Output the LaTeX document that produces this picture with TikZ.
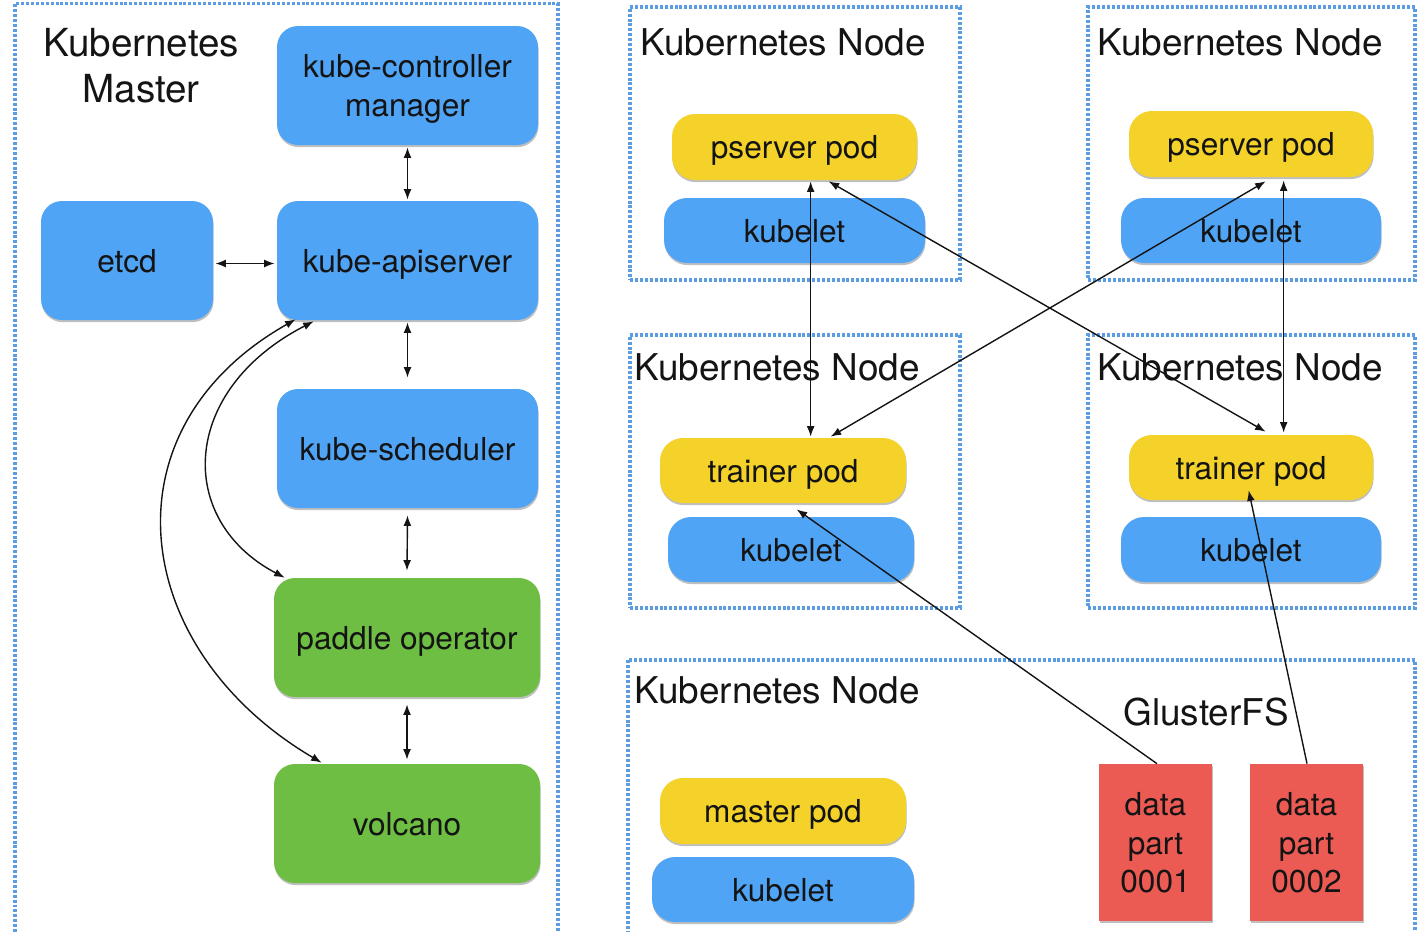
\documentclass[tikz,border=0pt]{standalone}
\usepackage{fontspec}
\setmainfont{TeX Gyre Heros}
\usetikzlibrary{arrows.meta,calc,shadows}
\definecolor{kblue}{HTML}{4FA4F5}
\definecolor{kyellow}{HTML}{F4D22A}
\definecolor{kgreen}{HTML}{6FBE44}
\definecolor{kred}{HTML}{EB5B53}
\definecolor{kdot}{HTML}{5C9CE2}
\definecolor{ktext}{HTML}{141414}
\begin{document}
\begin{tikzpicture}[x=0.02cm,y=-0.02cm,
  sz/.style 2 args={minimum width=#1*0.02cm, minimum height=#2*0.02cm},
  frame/.style={draw=kdot, line width=2pt, dash pattern=on 1.7pt off 1.1pt, inner sep=0pt},
  card/.style={rounded corners=0.42cm, inner sep=0pt, align=center, text=ktext, text depth=0pt,
    font=\fontsize{18}{21.8}\selectfont,
    drop shadow={shadow xshift=0.3pt, shadow yshift=-1.2pt, opacity=0.25, fill=black}},
  bluecard/.style={card, fill=kblue},
  greencard/.style={card, fill=kgreen},
  pod/.style={card, rounded corners=0.46cm},
  ypod/.style={pod, fill=kyellow},
  bpod/.style={pod, fill=kblue},
  datab/.style={card, rounded corners=0pt, fill=kred},
  lbl/.style={inner sep=0pt, align=center, text=ktext, font=\fontsize{22}{26.4}\selectfont},
  nlbl/.style={lbl, font=\fontsize{21}{25}\selectfont},
  con/.style={line width=0.8pt, draw=ktext},
  dbl/.style={con, {Latex[length=6pt,width=4.5pt]}-{Latex[length=6pt,width=4.5pt]}},
  one/.style={con, -{Latex[length=6pt,width=4.5pt]}}
]
\useasboundingbox (0,0) rectangle (1422,931);
\clip (0,0) rectangle (1422,931);

% ---------- containers ----------
\node[frame, sz={543}{945}] (master) at (286.5,476) {};
\node[frame, sz={330}{273}] (n1) at (795,143.5) {};
\node[frame, sz={327}{273}] (n2) at (1251.5,143.5) {};
\node[frame, sz={330}{273}] (n3) at (795,471.5) {};
\node[frame, sz={327}{273}] (n4) at (1251.5,471.5) {};
\node[frame, sz={787}{290}] (n5) at (1021.5,805) {};

% ---------- labels ----------
\node[lbl] (lmaster) at (141,66) {Kubernetes\\Master};
\node[nlbl] (l1) at (783,42) {Kubernetes Node};
\node[nlbl] (l2) at (1240,42) {Kubernetes Node};
\node[nlbl] (l3) at (777,367) {Kubernetes Node};
\node[nlbl] (l4) at (1240,367) {Kubernetes Node};
\node[nlbl] (l5) at (777,690) {Kubernetes Node};
\node[nlbl] (lgfs) at (1206,712) {GlusterFS};

% ---------- master components ----------
\node[bluecard, sz={261}{119}] (ctrl) at (407.5,85.5) {kube-controller\\manager};
\node[bluecard, sz={172}{119}] (etcd) at (127,260.5) {etcd};
\node[bluecard, sz={261}{119}] (api) at (407.5,260.5) {kube-apiserver};
\node[bluecard, sz={261}{119}] (sched) at (407.5,448.5) {kube-scheduler};
\node[greencard, sz={266}{119}] (paddle) at (407,637.5) {paddle operator};
\node[greencard, sz={266}{119}] (volcano) at (407,823.5) {volcano};

% ---------- node components ----------
\node[ypod, sz={245}{66}] (ps1) at (794.5,147) {pserver pod};
\node[bpod, sz={261}{65}] (kl1) at (794.5,230.5) {kubelet};
\node[ypod, sz={244}{66}] (ps2) at (1251,144) {pserver pod};
\node[bpod, sz={260}{65}] (kl2) at (1251,230.5) {kubelet};
\node[ypod, sz={246}{65}] (tr1) at (783,470.5) {trainer pod};
\node[bpod, sz={246}{65}] (kl3) at (791,549.5) {kubelet};
\node[ypod, sz={244}{65}] (tr2) at (1251,467.5) {trainer pod};
\node[bpod, sz={260}{65}] (kl4) at (1251,549.5) {kubelet};
\node[ypod, sz={246}{66}] (mp) at (783,811) {master pod};
\node[bpod, sz={262}{65}] (kl5) at (783,889.5) {kubelet};
\node[datab, sz={113}{157}] (d1) at (1155.5,842.5) {data\\part\\0001};
\node[datab, sz={113}{157}] (d2) at (1306.5,842.5) {data\\part\\0002};

% ---------- master connectors ----------
\draw[dbl] ($(ctrl.south)+(0,2)$) -- ($(api.north)+(0,-1)$);
\draw[dbl] ($(api.south)+(0,2)$) -- ($(sched.north)+(0,-11)$);
\draw[dbl] ($(sched.south)+(0,7)$) -- ($(paddle.north)+(0,-7)$);
\draw[dbl] ($(paddle.south)+(0,7)$) -- ($(volcano.north)+(0,-4)$);
\draw[dbl] ($(etcd.east)+(2,3)$) -- ($(api.west)+(-2,3)$);
\draw[dbl] ($(api.south west)+(19,-1)$) .. controls (100,430) and (130,650) .. ($(volcano.north west)+(48,-1)$);
\draw[dbl] ($(api.south west)+(37,1)$) .. controls (180,390) and (175,520) .. ($(paddle.north west)+(11,0)$);

% ---------- node connectors ----------
\draw[dbl] ($(ps1.south west)+(139,1)$) -- ($(tr1.north west)+(151,-1)$);
\draw[dbl] ($(ps1.south west)+(157,1)$) -- ($(tr2.north west)+(137,-3)$);
\draw[dbl] ($(ps2.south west)+(137,4)$) -- ($(tr1.north west)+(171,-1)$);
\draw[dbl] ($(ps2.south west)+(155,3)$) -- ($(tr2.north west)+(155,-2)$);
\draw[one] ($(d1.north)+(1.5,0)$) -- ($(tr1.south west)+(137,6)$);
\draw[one] ($(d2.north)+(0.5,0)$) -- ($(tr2.south west)+(120,-10)$);
\end{tikzpicture}
\end{document}
